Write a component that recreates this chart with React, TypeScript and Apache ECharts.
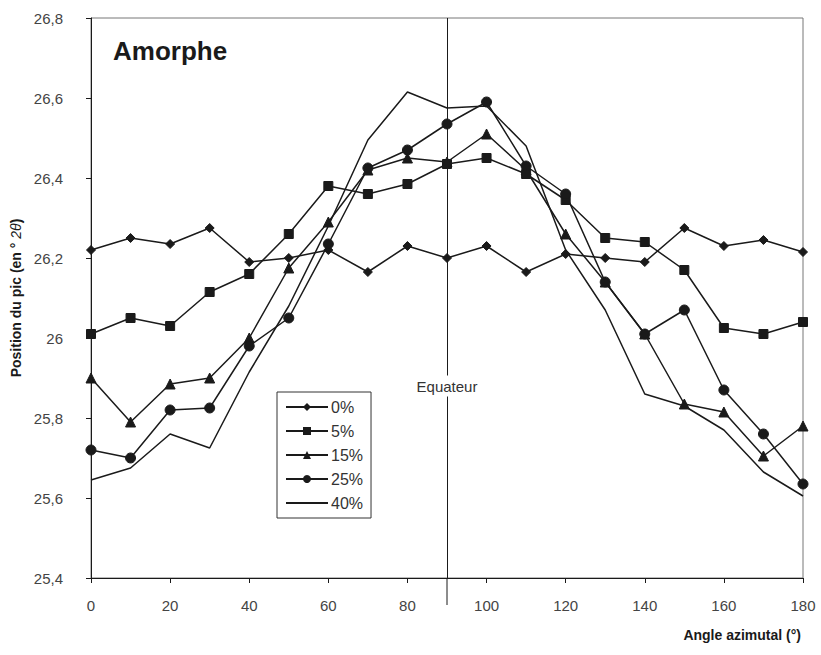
import React, { useEffect, useRef } from "react";
import * as echarts from "echarts";

const angles = [0, 10, 20, 30, 40, 50, 60, 70, 80, 90, 100, 110, 120, 130, 140, 150, 160, 170, 180];
const s0 = [26.22, 26.25, 26.235, 26.275, 26.19, 26.2, 26.22, 26.165, 26.23, 26.2, 26.23, 26.165, 26.21, 26.2, 26.19, 26.275, 26.23, 26.245, 26.215];
const s5 = [26.01, 26.05, 26.03, 26.115, 26.16, 26.26, 26.38, 26.36, 26.385, 26.435, 26.45, 26.41, 26.345, 26.25, 26.24, 26.17, 26.025, 26.01, 26.04];
const s15 = [25.9, 25.79, 25.885, 25.9, 26.0, 26.175, 26.29, 26.42, 26.45, 26.44, 26.51, 26.42, 26.26, 26.14, 26.01, 25.835, 25.815, 25.705, 25.78];
const s25 = [25.72, 25.7, 25.82, 25.825, 25.98, 26.05, 26.235, 26.425, 26.47, 26.535, 26.59, 26.43, 26.36, 26.14, 26.01, 26.07, 25.87, 25.76, 25.635];
const s40 = [25.645, 25.675, 25.76, 25.725, 25.915, 26.08, 26.28, 26.495, 26.615, 26.575, 26.58, 26.48, 26.22, 26.07, 25.86, 25.83, 25.77, 25.665, 25.605];

const seriesNames = ["0%", "5%", "15%", "25%", "40%"];
const seriesData = [s0, s5, s15, s25, s40];
const symbols = ["diamond", "rect", "triangle", "circle", "none"];
const symbolSizes = [9, 9, 10, 10, 0];

const equatorAngle = 90;
const equatorLabel = "Equateur";
const equatorLabelValue = 25.88;

const FONT = "'Liberation Sans', Arial, Helvetica, sans-serif";
const INK = "#1a1a1a";

export default function App() {
  const ref = useRef<HTMLDivElement>(null);
  useEffect(() => {
    if (!ref.current) return;
    const chart = echarts.init(ref.current, undefined, { renderer: "svg" });
    const series: any[] = seriesNames.map((name, i) => ({
      name,
      type: "line",
      data: angles.map((a, j) => [a, seriesData[i][j]]),
      symbol: symbols[i],
      symbolSize: symbolSizes[i],
      showSymbol: symbols[i] !== "none",
      lineStyle: { color: INK, width: 1.5 },
      itemStyle: { color: INK, borderColor: INK },
      emphasis: { disabled: true },
      z: 3,
    }));
    series[0].markLine = {
      silent: true,
      symbol: "none",
      label: { show: false },
      lineStyle: { color: INK, width: 1, type: "solid" },
      data: [{ xAxis: equatorAngle }],
      z: 2,
    };
    const legendData = seriesNames.map((name, i) =>
      symbols[i] === "none" ? { name, itemStyle: { opacity: 0 } } : { name }
    );
    const option: any = {
      animation: false,
      backgroundColor: "#fff",
      textStyle: { fontFamily: FONT },
      grid: {
        left: 91,
        right: 18,
        top: 18,
        bottom: 77,
        show: true,
        borderColor: "#777",
        borderWidth: 1,
      },
      title: {
        text: "Amorphe",
        left: 108,
        top: 33,
        textStyle: { fontFamily: FONT, fontSize: 26, fontWeight: "bold", color: INK },
      },
      legend: {
        orient: "vertical",
        left: 277,
        top: 392,
        data: legendData,
        itemWidth: 42,
        itemHeight: 10,
        itemGap: 8,
        padding: [7, 8, 7, 8],
        borderColor: "#333",
        borderWidth: 1,
        backgroundColor: "#fff",
        textStyle: { fontFamily: FONT, fontSize: 16, color: "#333", padding: [0, 0, 0, -2] },
      },
      xAxis: {
        type: "value",
        min: 0,
        max: 180,
        interval: 20,
        splitLine: { show: false },
        axisLine: { show: true, onZero: false, lineStyle: { color: INK, width: 1 } },
        axisTick: { show: true, length: 5, lineStyle: { color: INK } },
        axisLabel: { fontFamily: FONT, fontSize: 15, color: "#444", margin: 20 },
      },
      yAxis: {
        type: "value",
        min: 25.4,
        max: 26.8,
        interval: 0.2,
        name: "Position du pic (en ° {i|2θ})",
        nameLocation: "middle",
        nameGap: 68,
        nameTextStyle: {
          fontFamily: FONT,
          fontSize: 14,
          fontWeight: "bold",
          color: INK,
          rich: { i: { fontStyle: "italic", fontWeight: "normal", fontSize: 14, fontFamily: FONT, color: INK } },
        },
        splitLine: { show: false },
        axisLine: { show: true, onZero: false, lineStyle: { color: INK, width: 1 } },
        axisTick: { show: true, length: 5, lineStyle: { color: INK } },
        axisLabel: {
          fontFamily: FONT,
          fontSize: 15,
          color: "#444",
          margin: 28,
          formatter: (v: number) => String(Math.round(v * 10) / 10).replace(".", ","),
        },
      },
      series,
    };
    chart.setOption(option);

    const bottom = chart.convertToPixel({ gridIndex: 0 }, [equatorAngle, 25.4]) as number[];
    const lab = chart.convertToPixel({ gridIndex: 0 }, [equatorAngle, equatorLabelValue]) as number[];
    const right = chart.convertToPixel({ gridIndex: 0 }, [180, 25.4]) as number[];
    chart.setOption({
      graphic: [
        {
          type: "line",
          shape: { x1: bottom[0], y1: bottom[1], x2: bottom[0], y2: bottom[1] + 27 },
          style: { stroke: INK, lineWidth: 1 },
          z: 10,
        },
        {
          type: "text",
          x: lab[0],
          y: lab[1],
          style: {
            text: equatorLabel,
            fontFamily: FONT,
            fontSize: 15,
            fill: "#333",
            align: "center",
            verticalAlign: "middle",
            backgroundColor: "#fff",
            padding: [3, 2, 3, 2],
          },
          z: 10,
        },
        {
          type: "text",
          x: right[0] - 2,
          y: right[1] + 57,
          style: {
            text: "Angle azimutal (°)",
            fontFamily: FONT,
            fontSize: 14,
            fontWeight: "bold",
            fill: INK,
            align: "right",
            verticalAlign: "middle",
          },
          z: 10,
        },
      ],
    });
    return () => chart.dispose();
  }, []);
  return <div ref={ref} style={{ position: "fixed", left: 0, top: 0, width: 821, height: 655 }} />;
}
